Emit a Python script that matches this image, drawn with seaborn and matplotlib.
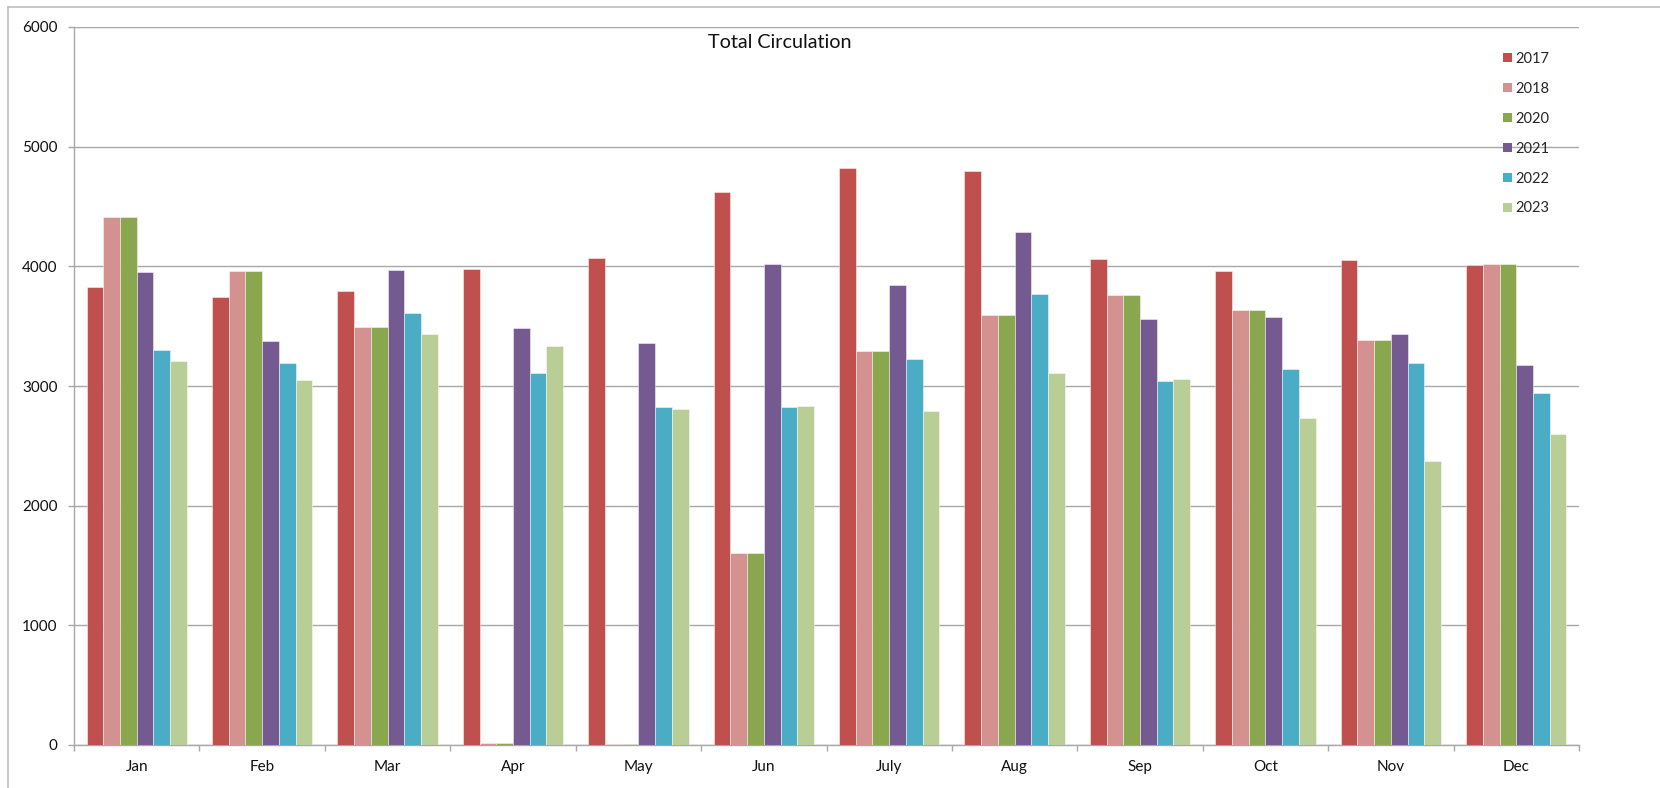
import matplotlib
matplotlib.use("Agg")
import matplotlib.pyplot as plt
from matplotlib.lines import Line2D
from matplotlib.patches import Patch
import numpy as np
import pandas as pd
import seaborn as sns

# Monthly circulation totals per year
months = ["Jan", "Feb", "Mar", "Apr", "May", "Jun",
          "July", "Aug", "Sep", "Oct", "Nov", "Dec"]
years = ["2017", "2018", "2020", "2021", "2022", "2023"]

circ_2017 = [3830, 3746, 3794, 3978, 4072, 4621, 4821, 4796, 4061, 3961, 4050, 4013]
circ_2018 = [4412, 3961, 3493, 15, 10, 1602, 3291, 3591, 3763, 3635, 3382, 4022]
circ_2020 = [4412, 3961, 3493, 15, 10, 1602, 3291, 3591, 3763, 3635, 3382, 4022]
circ_2021 = [3953, 3376, 3969, 3482, 3357, 4017, 3841, 4290, 3560, 3574, 3434, 3173]
circ_2022 = [3301, 3189, 3612, 3111, 2827, 2825, 3226, 3766, 3039, 3142, 3192, 2939]
circ_2023 = [3209, 3053, 3437, 3334, 2808, 2830, 2791, 3109, 3056, 2735, 2373, 2601]

series = [circ_2017, circ_2018, circ_2020, circ_2021, circ_2022, circ_2023]
palette = ["#C0504D", "#D39290", "#8AA64E", "#745A90", "#4BACC6", "#B9CE96"]

df = pd.DataFrame({
    "Month": np.tile(months, len(years)),
    "Year": np.repeat(years, len(months)),
    "Circulation": np.concatenate(series),
})

sns.set_theme(style="white")
plt.rcParams["font.family"] = ["Lato", "DejaVu Sans"]

W, H = 1660, 788
fig = plt.figure(figsize=(W / 100, H / 100), dpi=100)
ax = fig.add_axes([74 / W, 1 - 745 / H, (1579 - 74) / W, 718 / H])

sns.barplot(data=df, x="Month", y="Circulation", hue="Year",
            order=months, hue_order=years, palette=palette,
            width=0.8, gap=0, saturation=1, errorbar=None,
            edgecolor=(1, 1, 1, 0.55), linewidth=0.6,
            legend=False, ax=ax, zorder=3)

grid_col = "#a8a8a8"
ax.set_ylim(0, 6000)
ax.set_xlim(-0.5, len(months) - 0.5)
ax.set_yticks(np.arange(0, 6001, 1000))
ax.yaxis.grid(True, color=grid_col, linewidth=1.0, zorder=0)
ax.xaxis.grid(False)
ax.set_axisbelow(True)
ax.set_xlabel("")
ax.set_ylabel("")

for side in ["top", "right"]:
    ax.spines[side].set_visible(False)
for side in ["left", "bottom"]:
    ax.spines[side].set_color(grid_col)
    ax.spines[side].set_linewidth(1.0)

ax.tick_params(axis="y", which="major", left=True, length=4.3, width=1.0,
               color=grid_col, pad=7.5, labelsize=11, labelcolor="#111111")
ax.tick_params(axis="x", which="major", bottom=False, length=0, pad=11,
               labelsize=11, labelcolor="#111111")
ax.set_xticks(np.arange(-0.5, len(months), 1.0), minor=True)
ax.tick_params(axis="x", which="minor", bottom=True, length=4, width=1.0,
               color=grid_col)

ax.set_title("Total Circulation", fontsize=14.2, color="#111111",
             x=(780 - 74) / (1579 - 74), y=1 - (43 - 27) / 718,
             va="center", pad=0)

handles = [Patch(facecolor=c, edgecolor="none", label=y)
           for c, y in zip(palette, years)]
fig.legend(handles=handles, loc="upper left",
           bbox_to_anchor=(1503 / W, 1 - 52 / H), frameon=False,
           fontsize=10.5, handlelength=0.6, handleheight=0.6,
           handletextpad=0.25, labelspacing=1.09, borderpad=0,
           borderaxespad=0)

# Chart-area frame: left and top edges
frame_col = "#bdbdbd"
fig.add_artist(Line2D([8 / W, 8 / W], [0, 1 - 7 / H], transform=fig.transFigure,
                      color=frame_col, linewidth=1.2))
fig.add_artist(Line2D([8 / W, 1], [1 - 7 / H, 1 - 7 / H], transform=fig.transFigure,
                      color=frame_col, linewidth=1.2))

fig.savefig("out.png", dpi=100, facecolor="white")
